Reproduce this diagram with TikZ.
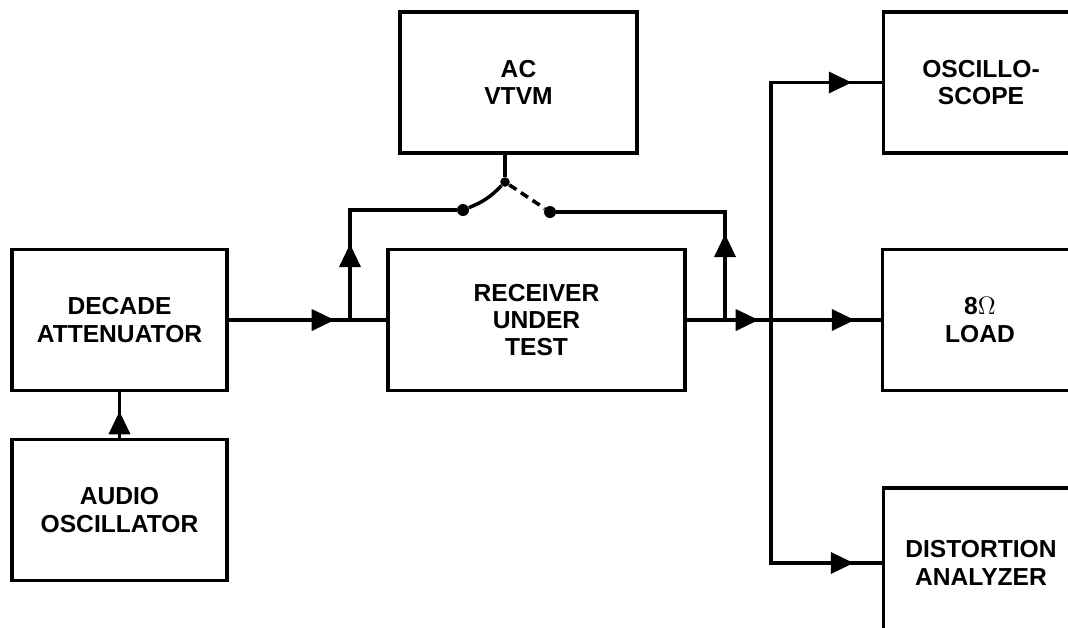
\documentclass[tikz,border=0pt]{standalone}
\usepackage{fontspec}
\setsansfont{Liberation Sans}
\usetikzlibrary{arrows.meta, decorations.markings}

\begin{document}
\begin{tikzpicture}[
    x=0.02cm, y=-0.02cm,
    font=\sffamily\bfseries\fontsize{14}{15.5}\selectfont,
    box/.style={rectangle, draw=black, line width=2pt, fill=white, minimum width=#1, minimum height=2.82cm, align=center, inner sep=0pt},
    box/.default=4.3cm,
    dot/.style={circle, fill=black, inner sep=0pt, minimum size=0.24cm},
    wire/.style={line width=2pt},
    flow/.style={
        wire,
        postaction={decorate, decoration={
            markings,
            mark=at position #1 with {\arrow{Triangle[length=0.46cm, width=0.42cm]}}
        }}
    }
]
\useasboundingbox (0,0) rectangle (1068,627);
\clip (0,0) rectangle (1068,627);

% ==================== NODES ====================
\node[box] (decade) at (119.5,320) {DECADE\\ATTENUATOR};
\node[box] (audio) at (119.5,510) {AUDIO\\OSCILLATOR};
\node[box=5.94cm] (receiver) at (536.5,320) {RECEIVER\\UNDER\\TEST};
\node[box=4.74cm] (vtvm) at (518.5,82.5) {AC\\VTVM};

\node[box=3.9cm] (scope) at (981,82.5) {OSCILLO-\\SCOPE};
\node[box=3.9cm] (load) at (980,320) {8{\mdseries$\Omega$}\\LOAD};
\node[box=3.9cm, minimum height=3cm] (distortion) at (981,563) {DISTORTION\\ANALYZER};

% ==================== SWITCH ====================
\node[dot] (swL) at (463,210) {};
\node[dot, minimum size=0.19cm] (swP) at (505,182) {};
\node[dot] (swR) at (550,212) {};
\coordinate (jin) at (350,320);
\coordinate (jout) at (725,320);
\coordinate (bus) at (771,320);

\draw[wire] (swP) -- (swP |- vtvm.south);
\draw[wire] (swL) to[bend right=12] (swP);
\draw[wire, dash pattern=on 0.17cm off 0.11cm] (swP) -- (swR);

% ==================== CONNECTING ARROWS ====================
% Input side
\draw[flow=-0.38cm] (audio.north) -- (decade.south);
\draw[flow=2.12cm] (decade.east) -- (jin) -- (receiver.west);
\draw[flow=1.52cm] (jin) -- (jin |- swL) -- (swL);

% Output side
\draw[flow=1.72cm] (jout) -- (jout |- swR) -- (swR);
\draw[flow=1.44cm] (receiver.east) -- (bus);

% Output bus
\draw[flow=-0.6cm] (bus) |- (scope.west);
\draw[flow=-0.52cm] (bus) -- (load.west);
\draw[flow=-0.56cm] (bus) |- (distortion.west);

\end{tikzpicture}
\end{document}
